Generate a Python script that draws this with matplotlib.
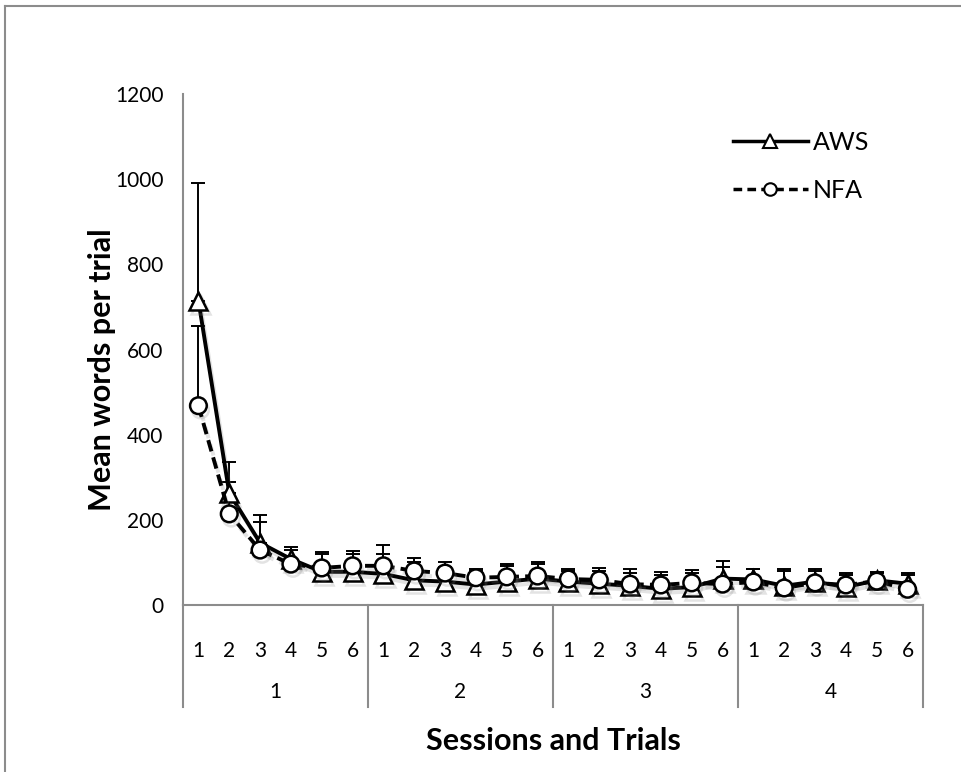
import numpy as np
import matplotlib.pyplot as plt
import matplotlib.patheffects as pe
from matplotlib.lines import Line2D

plt.rcParams['font.family'] = ['Lato', 'DejaVu Sans']

########### data ###########

sessions = ['1', '2', '3', '4']
trials = ['1', '2', '3', '4', '5', '6']

aws_mean = [715, 263, 146, 108, 78, 78,
            73, 58, 55, 48, 55, 62,
            55, 50, 45, 38, 42, 62,
            60, 45, 55, 42, 58, 50]
aws_top = [990, 336, 212, 136, 120, 120,
           120, 100, 90, 80, 97, 101,
           80, 80, 75, 70, 75, 90,
           85, 80, 80, 70, 75, 70]

nfa_mean = [468, 214, 129, 96, 87, 92,
            92, 80, 75, 64, 66, 68,
            61, 59, 49, 47, 52, 49,
            54, 40, 52, 47, 56, 37]
nfa_top = [656, 289, 195, 129, 125, 127,
           141, 110, 101, 85, 92, 96,
           85, 87, 84, 78, 82, 104,
           85, 84, 84, 75, 78, 75]

########### figure ###########

W, H = 961, 772
fig = plt.figure(figsize=(W / 100, H / 100), dpi=100)
ax = fig.add_axes([183 / W, (H - 605) / H, (923 - 183) / W, (605 - 94) / H])

n = len(sessions) * len(trials)
x = np.arange(n)
aws_mean = np.array(aws_mean)
nfa_mean = np.array(nfa_mean)
aws_err = np.array(aws_top) - aws_mean
nfa_err = np.array(nfa_top) - nfa_mean

shadow = [pe.SimpleLineShadow(offset=(1.5, -3), shadow_color='gray', alpha=0.22), pe.Normal()]

ax.errorbar(x, nfa_mean, yerr=[np.zeros(n), nfa_err], fmt='none', ecolor='black',
            elinewidth=1.4, capsize=5, capthick=1.4, zorder=2)
ax.errorbar(x, aws_mean, yerr=[np.zeros(n), aws_err], fmt='none', ecolor='black',
            elinewidth=1.4, capsize=5, capthick=1.4, zorder=2)

l_aws, = ax.plot(x, aws_mean, color='black', lw=2.8, marker='^', ms=13,
                 mfc='white', mec='black', mew=1.8, zorder=3, label='AWS')
l_nfa, = ax.plot(x, nfa_mean, color='black', lw=2.8, ls=(0, (3, 1.6)), marker='o', ms=12,
                 mfc='white', mec='black', mew=1.8, zorder=4, label='NFA')
l_aws.set_path_effects(shadow)
l_nfa.set_path_effects(shadow)

ax.set_xlim(-0.5, n - 0.5)
ax.set_ylim(0, 1200)
ax.set_yticks(np.arange(0, 1201, 200))
ax.tick_params(axis='y', length=0, labelsize=15, pad=14)

ax.set_xticks(x)
ax.set_xticklabels(trials * len(sessions))
ax.tick_params(axis='x', length=0, labelsize=15, pad=26)

for s in ['top', 'right']:
    ax.spines[s].set_visible(False)
for s in ['left', 'bottom']:
    ax.spines[s].set_color('#8c8c8c')
    ax.spines[s].set_linewidth(1.5)

# session labels and separators below the axis
trans = ax.get_xaxis_transform()
for i, s in enumerate(sessions):
    ax.text(i * 6 + 2.5, -0.17, s, transform=trans, ha='center', va='center', fontsize=15)
for b in range(len(sessions) + 1):
    ax.plot([b * 6 - 0.5, b * 6 - 0.5], [0, -0.2], transform=trans, color='#8c8c8c',
            lw=1.5, clip_on=False)

ax.set_ylabel('Mean words per trial', fontsize=22, fontweight='bold')
ax.yaxis.set_label_coords(-0.09, 0.46)
fig.text(553 / W, 1 - 741 / H, 'Sessions and Trials', ha='center', va='center',
         fontsize=22, fontweight='bold')

h_aws = Line2D([], [], color='black', lw=2.5, marker='^', ms=10, mfc='white', mec='black', mew=1.5)
h_nfa = Line2D([], [], color='black', lw=2.5, ls=(0, (2.5, 1.5)), marker='o', ms=9,
               mfc='white', mec='black', mew=1.5)
ax.legend([h_aws, h_nfa], ['AWS', 'NFA'], loc='upper left', bbox_to_anchor=(710 / W, 1 - 108 / H),
          bbox_transform=fig.transFigure, frameon=False, fontsize=18, handlelength=3.0,
          handletextpad=0.2, labelspacing=1.0)

# outer chart border (top and left only visible)
fig.add_artist(Line2D([5 / W, 1], [1 - 6 / H, 1 - 6 / H], transform=fig.transFigure,
                      color='#8c8c8c', lw=1.5))
fig.add_artist(Line2D([5 / W, 5 / W], [0, 1 - 6 / H], transform=fig.transFigure,
                      color='#8c8c8c', lw=1.5))

plt.savefig('out.png', dpi=100)
